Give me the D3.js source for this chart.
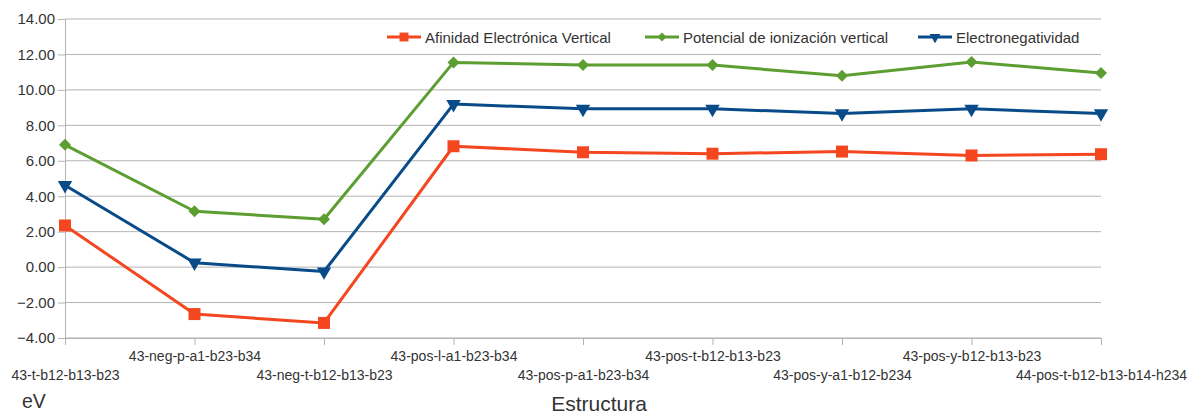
<!DOCTYPE html>
<html><head><meta charset="utf-8">
<script src="https://cdn.jsdelivr.net/npm/d3@7"></script>
<style>body{margin:0;background:#fff}svg{display:block;font-family:"Liberation Sans",Arial,sans-serif}</style>
</head><body><svg id="c" width="1189" height="412"></svg>
<script>
const categories = ["43-t-b12-b13-b23","43-neg-p-a1-b23-b34","43-neg-t-b12-b13-b23","43-pos-l-a1-b23-b34","43-pos-p-a1-b23-b34","43-pos-t-b12-b13-b23","43-pos-y-a1-b12-b234","43-pos-y-b12-b13-b23","44-pos-t-b12-b13-b14-h234"];
const afinidad = [2.35,-2.65,-3.15,6.82,6.48,6.40,6.52,6.30,6.37];
const potencial = [6.90,3.15,2.70,11.55,11.40,11.40,10.80,11.58,10.95];
const electroneg = [4.62,0.25,-0.25,9.20,8.93,8.93,8.67,8.93,8.67];
const yTicks = [-4,-2,0,2,4,6,8,10,12,14];
const seriesNames = ["Afinidad Electrónica Vertical","Potencial de ionización vertical","Electronegatividad"];

const series = [
  {name:seriesNames[0], values:afinidad, color:"#f4461f", sym:"square"},
  {name:seriesNames[1], values:potencial, color:"#5c9e31", sym:"diamond"},
  {name:seriesNames[2], values:electroneg, color:"#084b88", sym:"tri"}
];
const svg = d3.select("#c");
const L=65,R=1101,T=19,B=338;
const x = d3.scalePoint().domain(categories).range([L,R]).padding(0);
const y = d3.scaleLinear().domain([-4,14]).range([B,T]);

// gridlines
svg.append("g").selectAll("line").data(yTicks).join("line")
  .attr("x1",L).attr("x2",R).attr("y1",d=>y(d)).attr("y2",d=>y(d))
  .attr("stroke","#b3b3b3").attr("stroke-width",1);

// y axis
const ya = svg.append("g").attr("transform",`translate(${L},0)`)
  .call(d3.axisLeft(y).tickValues(yTicks).tickFormat(d3.format(".2f")).tickSize(7).tickPadding(3));
ya.select(".domain").attr("stroke","#b3b3b3");
ya.selectAll(".tick line").attr("stroke","#b3b3b3");
ya.selectAll("text").attr("font-size",15).attr("fill","#333").attr("font-family","Liberation Sans, Arial, sans-serif");

// x axis
const xa = svg.append("g").attr("transform",`translate(0,${B})`)
  .call(d3.axisBottom(x).tickSize(7).tickPadding(0));
xa.select(".domain").attr("stroke","#b3b3b3");
xa.selectAll(".tick line").attr("stroke","#b3b3b3");
xa.selectAll("text").attr("font-size",14).attr("fill","#333").attr("font-family","Liberation Sans, Arial, sans-serif")
  .attr("dy",null).attr("y",(d,i)=> i%2===0 ? 42 : 23);

// lines
const line = d3.line().x((d,i)=>x(categories[i])).y(d=>y(d));
const sizes = {square:144, diamond:72, tri:90};
function sym(s){ return s==="square"||s==="diamond"?d3.symbolSquare:d3.symbolTriangle; }
function rot(s){ return s==="tri"?" rotate(180)": s==="diamond"?" rotate(45)":""; }
series.forEach(s=>{
  svg.append("path").datum(s.values).attr("d",line).attr("fill","none")
    .attr("stroke",s.color).attr("stroke-width",3).attr("stroke-linejoin","round");
  svg.append("g").selectAll("path").data(s.values).join("path")
    .attr("d",d3.symbol().type(sym(s.sym)).size(sizes[s.sym]))
    .attr("transform",(d,i)=>`translate(${x(categories[i])},${y(d)})${rot(s.sym)}`)
    .attr("fill",s.color);
});

// legend
const legX = [387,645,918];
const lg = svg.append("g");
series.forEach((s,i)=>{
  const g = lg.append("g").attr("transform",`translate(${legX[i]},37)`);
  g.append("line").attr("x1",0).attr("x2",34).attr("stroke",s.color).attr("stroke-width",3);
  g.append("path").attr("d",d3.symbol().type(sym(s.sym)).size(sizes[s.sym]*0.55)).attr("fill",s.color)
    .attr("transform",`translate(17,0)${rot(s.sym)}`);
  g.append("text").attr("x",38).attr("y",5.5).attr("font-size",15).attr("fill","#333").text(s.name);
});

// axis titles
svg.append("text").attr("x",22).attr("y",408).attr("font-size",19.5).attr("fill","#333").text("eV");
svg.append("text").attr("x",599).attr("y",411).attr("text-anchor","middle").attr("font-size",21).attr("fill","#333").text("Estructura");
</script></body></html>
